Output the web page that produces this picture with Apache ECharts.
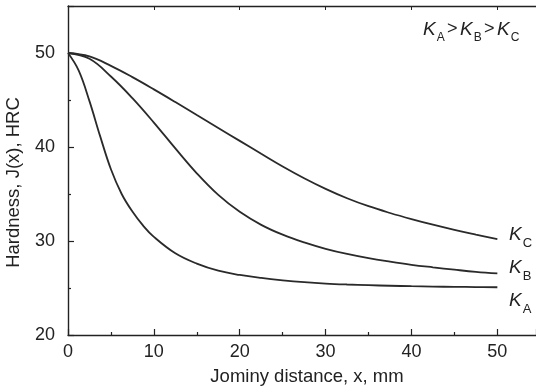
<!DOCTYPE html>
<html>
<head>
<meta charset="utf-8">
<script src="https://cdn.jsdelivr.net/npm/echarts@6/dist/echarts.min.js"></script>
<style>
  html, body { margin: 0; padding: 0; background: #fff; }
  #main { width: 536px; height: 391px; }
</style>
</head>
<body>
<div id="main"></div>
<script>
// Jominy distance, mm
const distanceA = [0, 1.25, 2.5, 3.75, 5, 6.25, 7.5, 8.75, 10, 12.5, 15, 17.5, 20, 22.5, 25, 27.5, 30, 32.5, 35, 37.5, 40, 42.5, 45, 47.5, 50];
const distance = [0, 2.5, 5, 7.5, 10, 12.5, 15, 17.5, 20, 22.5, 25, 27.5, 30, 32.5, 35, 37.5, 40, 42.5, 45, 47.5, 50];
// hardness, HRC
const hardnessA = [50, 48.13, 44.88, 41.13, 37.63, 35.0, 33.13, 31.63, 30.44, 28.69, 27.59, 26.84, 26.39, 26.07, 25.82, 25.62, 25.47, 25.37, 25.3, 25.24, 25.19, 25.15, 25.12, 25.1, 25.08];
const hardnessB = [50, 49.38, 47.5, 45.2, 42.6, 39.85, 37.2, 34.9, 33.1, 31.72, 30.67, 29.85, 29.17, 28.62, 28.17, 27.8, 27.47, 27.2, 26.95, 26.72, 26.55];
const hardnessC = [50, 49.63, 48.63, 47.43, 46.13, 44.78, 43.4, 42.03, 40.65, 39.28, 37.93, 36.68, 35.55, 34.55, 33.7, 32.98, 32.33, 31.73, 31.18, 30.68, 30.2];

const ink = '#222';
const font = '"Liberation Sans", Arial, sans-serif';

function pairs(xs, ys) {
  return xs.map((x, i) => [x, ys[i]]);
}

function curve(name, xs, ys) {
  return {
    name: name,
    type: 'line',
    data: pairs(xs, ys),
    smooth: 0.4,
    showSymbol: false,
    silent: true,
    lineStyle: { color: '#2a2a2a', width: 1.8 }
  };
}

// K with a subscript letter, placed as separate text pieces
function kLabel(x, y, sub, size, subSize) {
  return [
    { type: 'text', left: x, top: y,
      style: { text: 'K', font: 'italic ' + size + 'px ' + font, fill: ink } },
    { type: 'text', left: x + size * 0.72, top: y + size * 0.62,
      style: { text: sub, font: subSize + 'px ' + font, fill: ink } }
  ];
}

const chartDOM = document.getElementById('main');
const myChart = echarts.init(chartDOM);

const graphics = []
  .concat(kLabel(423, 20, 'A', 19, 12))
  .concat([{ type: 'text', left: 447, top: 20, style: { text: '>', font: '18px ' + font, fill: ink } }])
  .concat(kLabel(460, 20, 'B', 19, 12))
  .concat([{ type: 'text', left: 484, top: 20, style: { text: '>', font: '18px ' + font, fill: ink } }])
  .concat(kLabel(497, 20, 'C', 19, 12))
  .concat(kLabel(509, 225, 'C', 19, 13))
  .concat(kLabel(509, 258, 'B', 19, 13))
  .concat(kLabel(509, 291, 'A', 19, 13));

const option = {
  animation: false,
  backgroundColor: '#fff',
  grid: { left: 68, right: 0, top: 6, bottom: 56, containLabel: false, outerBoundsMode: 'none' },
  xAxis: [{
    type: 'value',
    min: 0,
    max: 54.5,
    interval: 10,
    name: 'Jominy distance, x, mm',
    nameLocation: 'middle',
    nameGap: 32,
    nameTextStyle: { fontFamily: font, fontSize: 18.5, color: ink, padding: [0, 0, 0, 10] },
    axisLine: { show: true, lineStyle: { color: ink, width: 1.4 } },
    axisTick: { show: true, inside: true, length: 6, lineStyle: { color: ink, width: 1.2 } },
    minorTick: { show: true, splitNumber: 2, length: 3, lineStyle: { color: ink, width: 1.2 } },
    axisLabel: {
      fontFamily: font, fontSize: 18, color: ink, margin: 8,
      formatter: v => (v > 50 ? '' : v)
    },
    splitLine: { show: false }
  }, {
    type: 'value',
    position: 'top',
    min: 0,
    max: 54.5,
    interval: 10,
    axisLine: { show: true, onZero: false, lineStyle: { color: ink, width: 1.4 } },
    axisTick: { show: true, inside: true, length: 4, lineStyle: { color: ink, width: 1 } },
    axisLabel: { show: false },
    splitLine: { show: false }
  }],
  yAxis: {
    type: 'value',
    min: 20,
    max: 55,
    interval: 10,
    name: 'Hardness, J(x), HRC',
    nameLocation: 'middle',
    nameGap: 45,
    nameTextStyle: { fontFamily: font, fontSize: 18.5, color: ink, padding: [0, 0, 0, -24] },
    axisLine: { show: true, lineStyle: { color: ink, width: 1.4 } },
    axisTick: { show: true, inside: true, length: 6, lineStyle: { color: ink, width: 1.2 } },
    minorTick: { show: true, splitNumber: 2, length: 3, lineStyle: { color: ink, width: 1.2 } },
    axisLabel: {
      fontFamily: font, fontSize: 18, color: ink, margin: 13,
      formatter: v => (v > 50 ? '' : v)
    },
    splitLine: { show: false }
  },
  series: [
    curve('KA', distanceA, hardnessA),
    curve('KB', distance, hardnessB),
    curve('KC', distance, hardnessC)
  ],
  graphic: graphics
};

option && myChart.setOption(option);
</script>
</body>
</html>
